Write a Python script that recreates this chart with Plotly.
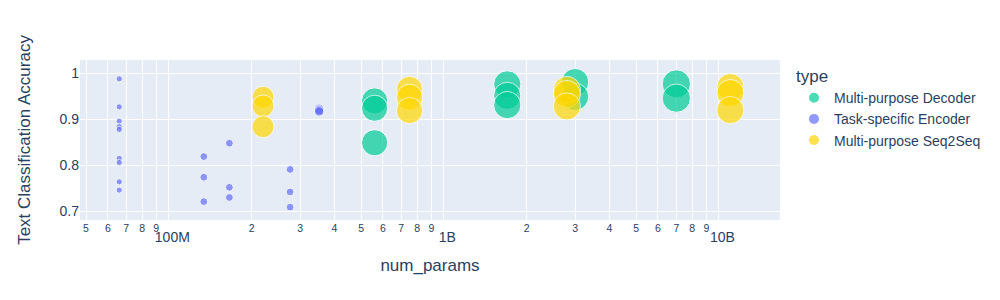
import pandas as pd
import plotly.express as px

# ---- data ----
dec_params = [5.6e8, 5.6e8, 5.6e8, 1.7e9, 1.7e9, 1.7e9, 3.0e9, 3.0e9, 7.0e9, 7.0e9]
dec_acc = [0.940, 0.924, 0.849, 0.976, 0.951, 0.931, 0.981, 0.949, 0.977, 0.946]
dec_weight = [625, 625, 625, 676, 676, 676, 676, 676, 729, 729]

enc_params = [6.6e7] * 9 + [1.34e8] * 3 + [1.66e8] * 3 + [2.76e8] * 3 + [3.52e8] * 3
enc_acc = [0.988, 0.927, 0.896, 0.884, 0.878, 0.815, 0.806, 0.764, 0.746,
           0.819, 0.774, 0.721,
           0.848, 0.752, 0.730,
           0.791, 0.742, 0.709,
           0.923, 0.920, 0.917]
enc_weight = [36] * 9 + [56] * 9 + [81] * 3

s2s_params = [2.2e8] * 3 + [7.5e8] * 3 + [2.8e9] * 3 + [1.1e10] * 3
s2s_acc = [0.948, 0.929, 0.884,
           0.965, 0.948, 0.919,
           0.964, 0.955, 0.928,
           0.970, 0.957, 0.920]
s2s_weight = [441] * 3 + [625] * 3 + [676] * 3 + [676] * 3

type_names = ["Multi-purpose Decoder", "Task-specific Encoder", "Multi-purpose Seq2Seq"]
type_colors = ["#00CC96", "#636EFA", "#FFD700"]

df = pd.DataFrame({
    "num_params": dec_params + enc_params + s2s_params,
    "Text Classification Accuracy": dec_acc + enc_acc + s2s_acc,
    "weight": dec_weight + enc_weight + s2s_weight,
    "type": [type_names[0]] * len(dec_params) + [type_names[1]] * len(enc_params)
            + [type_names[2]] * len(s2s_params),
})

fig = px.scatter(
    df, x="num_params", y="Text Classification Accuracy", color="type",
    size="weight", size_max=20, log_x=True,
    color_discrete_map=dict(zip(type_names, type_colors)),
    category_orders={"type": type_names},
)

fig.update_layout(
    width=992, height=292,
    margin=dict(l=72, r=220, t=52, b=80),
    font=dict(family="Arial", size=14),
)
fig.update_xaxes(range=[7.677, 10.222])
fig.update_yaxes(range=[0.681, 1.029], title_standoff=24)

fig.write_html("out.html")
